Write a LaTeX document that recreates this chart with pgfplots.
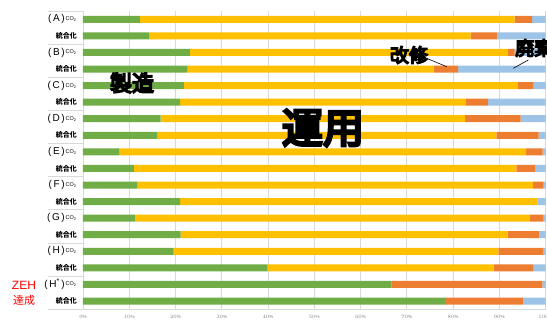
\documentclass[border=0pt]{standalone}
\usepackage{fontspec}
\setmainfont{Liberation Sans}
\newfontfamily\cjk{Noto Sans CJK JP}
\newfontfamily\cjkheavy[FakeBold=7]{Noto Sans CJK JP}
\usepackage{pgfplots}
\usepackage{pgfplotstable}
\pgfplotsset{compat=1.18}
\definecolor{cgreen}{HTML}{70AD47}
\definecolor{cyellow}{HTML}{FFC000}
\definecolor{corange}{HTML}{ED7D31}
\definecolor{cblue}{HTML}{9DC3E6}
\definecolor{cgrid}{HTML}{D9D9D9}
\definecolor{ctick}{HTML}{7F7F7F}
\pgfplotstableread{
row g y o b
1 12.3 81.0 3.8 2.9
2 14.3 69.5 5.8 10.4
3 23.1 68.8 1.4 6.7
4 22.6 53.2 5.3 18.9
5 21.8 72.1 3.4 2.7
6 21.0 61.7 4.9 12.4
7 16.8 65.8 12.0 5.4
8 16.0 73.4 9.1 1.5
9 7.8 88.0 3.6 0.6
10 11.0 82.7 4.0 2.3
11 11.7 85.6 2.2 0.5
12 21.0 77.3 0.0 1.7
13 11.2 85.5 2.8 0.5
14 21.1 70.7 6.9 1.3
15 19.6 70.2 9.7 0.5
16 39.9 48.9 8.5 2.7
17 66.7 0.0 32.6 0.7
18 78.3 0.0 16.8 4.9
}\data
\begin{document}
\begin{tikzpicture}[x=1pt,y=1pt]
\useasboundingbox (0,0) rectangle (547,320);
\begin{axis}[
  at={(83pt,10.7pt)}, anchor=south west,
  width=462.5pt, height=298.3pt, scale only axis,
  xbar stacked, bar width=7pt,
  xmin=0, xmax=100, ymin=0.5, ymax=18.5, y dir=reverse,
  xtick={0,10,...,100},
  xticklabel={\pgfmathprintnumber{\tick}\%},
  xticklabel style={font=\fontsize{4.5}{5}\selectfont, text=ctick, yshift=-2pt},
  ytick=\empty,
  xmajorgrids, grid style={cgrid, line width=0.8pt},
  major tick length=0pt,
  axis x line*=none,
  axis y line*=left,
  axis line style={cgrid, line width=0.8pt},
  clip=false,
  every axis plot/.append style={draw=none},
]
\addplot[fill=cgreen] table[x=g, y=row]{\data};
\addplot[fill=cyellow] table[x=y, y=row]{\data};
\addplot[fill=corange] table[x=o, y=row]{\data};
\addplot[fill=cblue] table[x=b, y=row]{\data};
\foreach \k in {0.5,2.5,...,18.5} {
  \edef\tmp{\noexpand\draw[cgrid, line width=0.8pt] (axis cs:-7.6,\k) -- (axis cs:0,\k);}
  \tmp
}
\end{axis}
% group labels
\foreach \lab/\yy in {A/19.3,B/52.5,C/85.6,D/118.7,E/151.9,F/185.0,G/218.2,H/251.3} {
  \node[anchor=east, inner sep=0pt, font=\fontsize{10}{12}\selectfont] at (65,{320-\yy}) {(\,\lab\,)};
}
\node[anchor=east, inner sep=0pt, font=\fontsize{10}{12}\selectfont] at (65,{320-284.4}) {(\,H\textsuperscript{*}\,)};
\foreach \yy in {19.3,52.5,85.6,118.7,151.9,185.0,218.2,251.3,284.4} {
  \node[anchor=west, inner sep=0pt, font=\fontsize{5.5}{6}\selectfont] at (65.5,{320-\yy}) {CO\textsubscript{2}};
  \node[anchor=east, inner sep=0pt, font=\cjk\bfseries\fontsize{7}{8}\selectfont] at (77,{320-\yy-16.57}) {統合化};
}
\node[anchor=center, inner sep=0pt, text=red, font=\fontsize{12}{13}\selectfont] at (24,{320-285}) {ZEH};
\node[anchor=center, inner sep=0pt, text=red, font=\cjk\fontsize{11}{12}\selectfont] at (24,{320-300}) {達成};
% annotations
\node[inner sep=0pt, font=\cjkheavy\fontsize{22}{24}\selectfont] at (132,237) {製造};
\node[inner sep=0pt, font=\cjkheavy\fontsize{41}{44}\selectfont] at (323,192) {運用};
\node[inner sep=0pt, font=\cjkheavy\fontsize{19}{21}\selectfont] at (409,265) {改修};
\node[inner sep=0pt, anchor=west, font=\cjkheavy\fontsize{19}{21}\selectfont] at (515,272) {廃棄};
\draw[black, line width=0.6pt] (426.7,261.7) -- (446.7,253.3);
\draw[black, line width=0.6pt] (528.3,260) -- (513.3,251.7);
\end{tikzpicture}
\end{document}
